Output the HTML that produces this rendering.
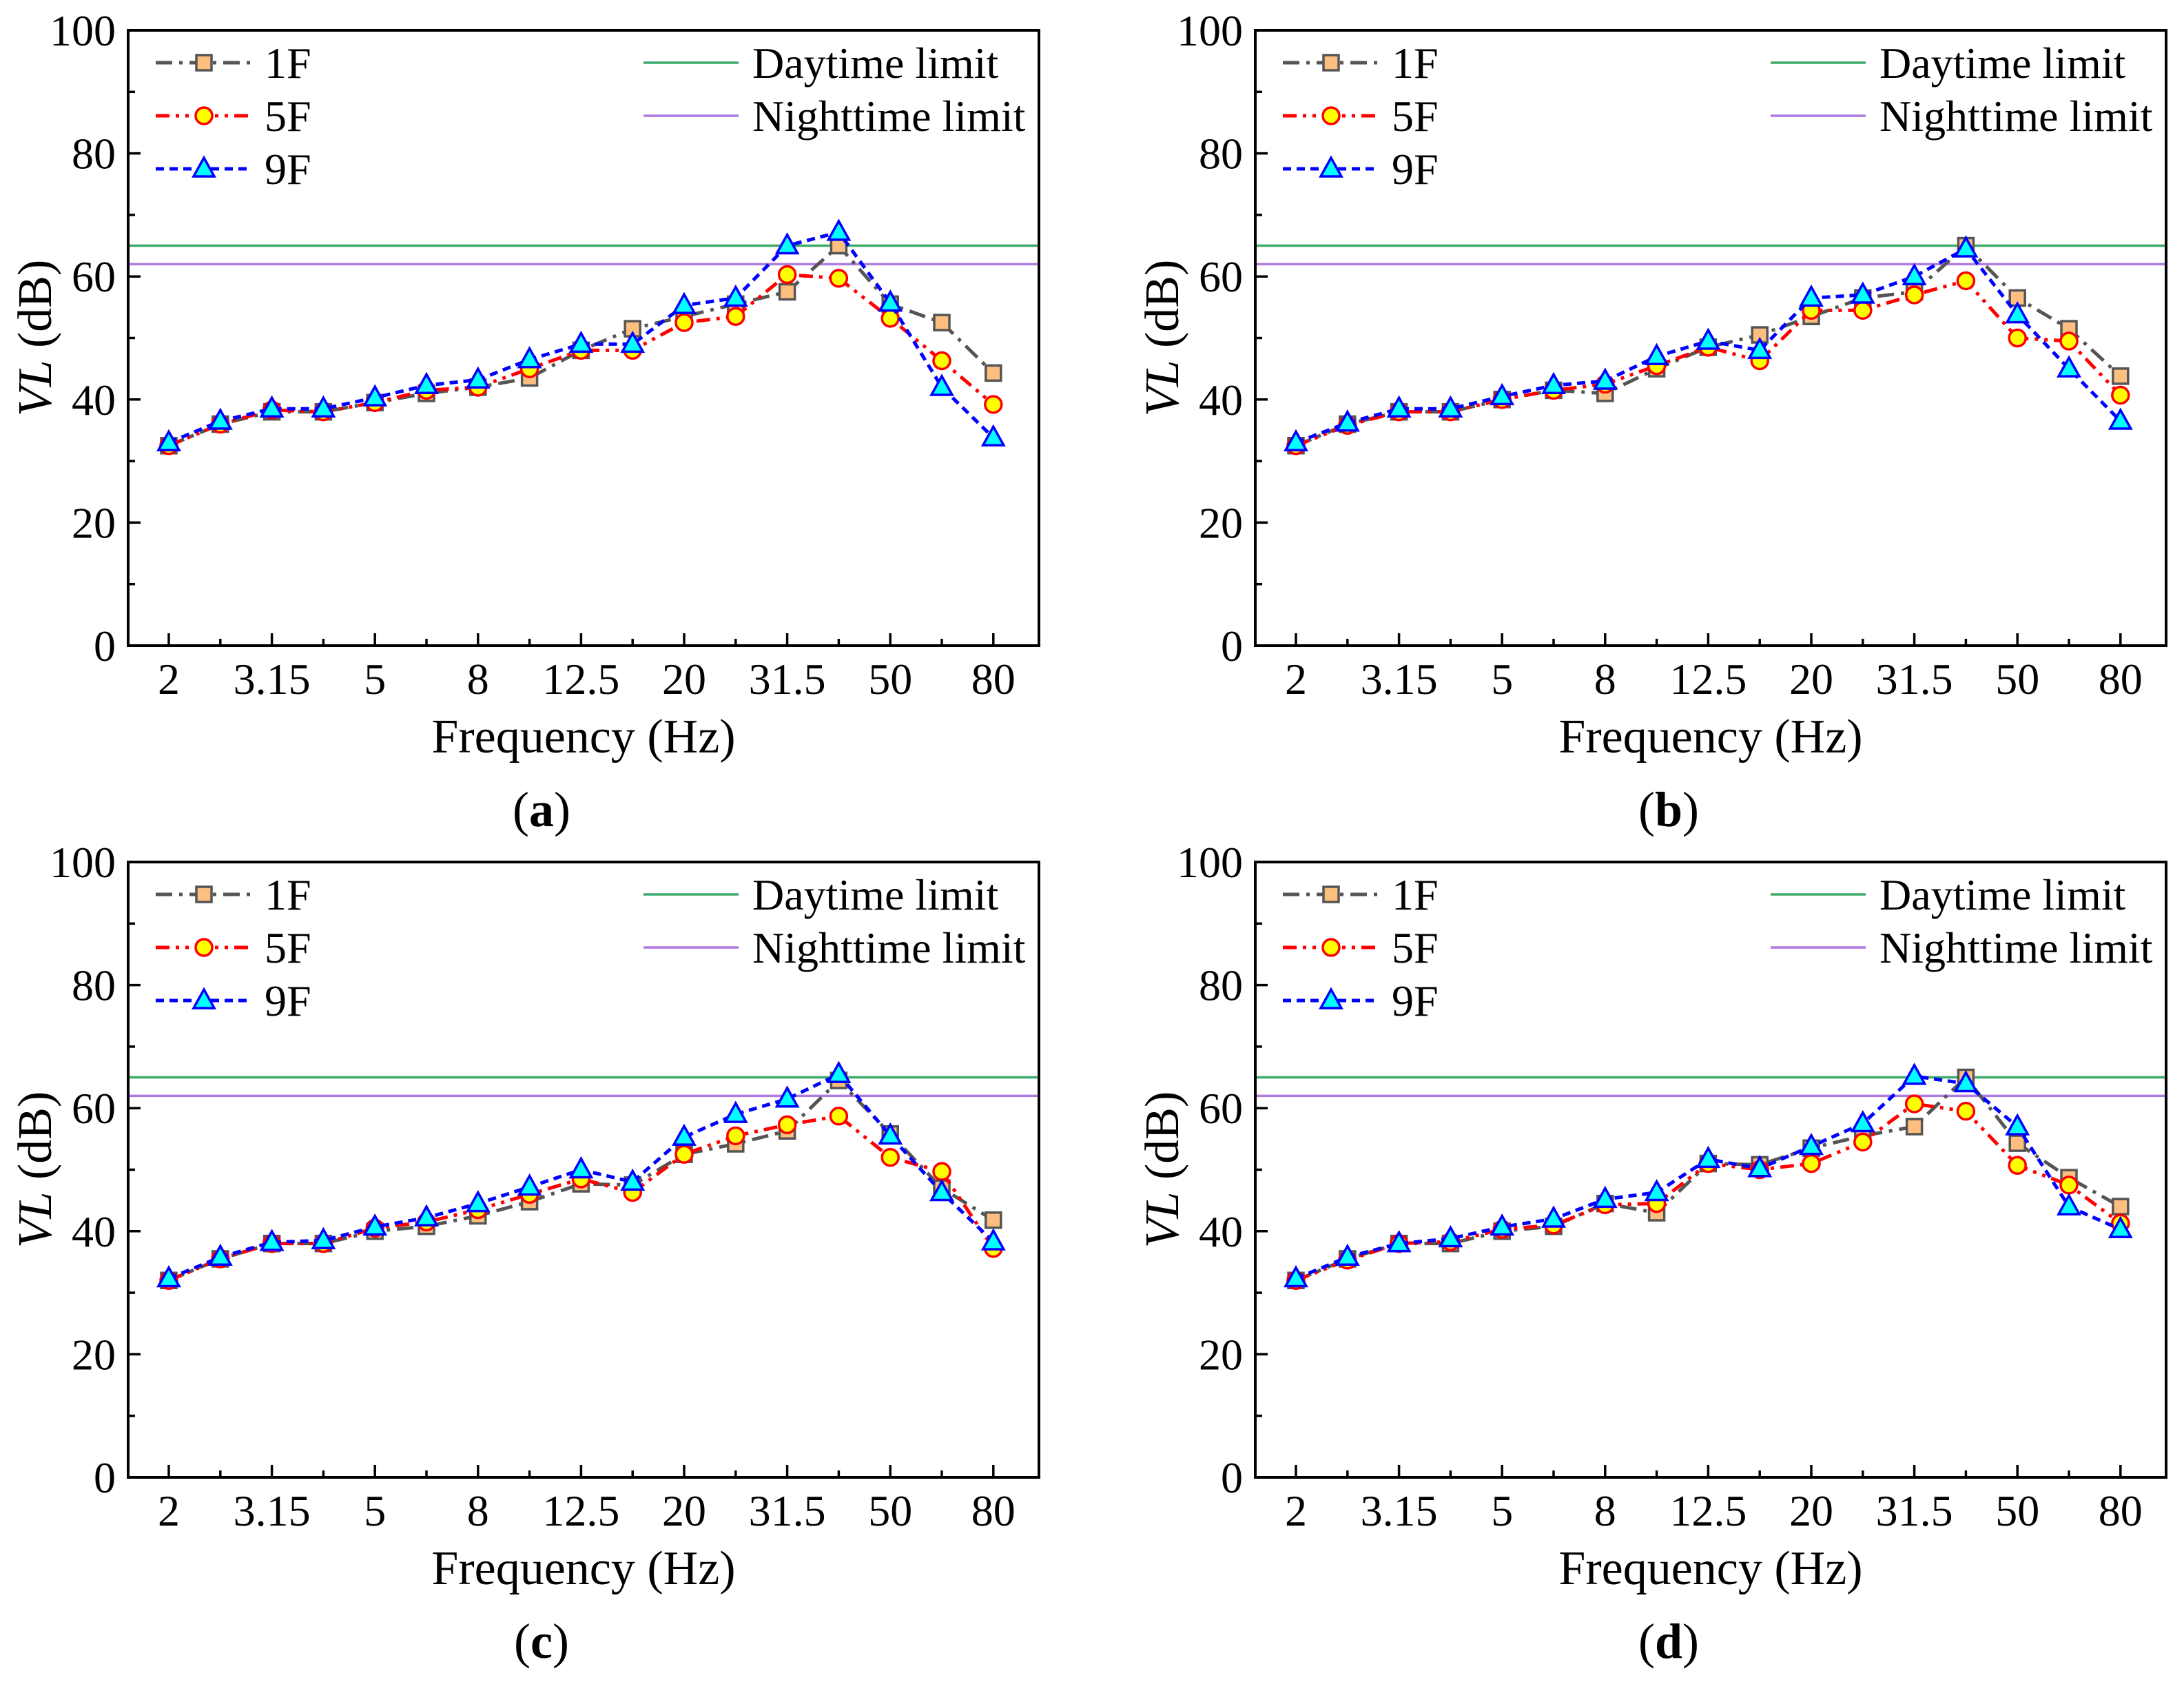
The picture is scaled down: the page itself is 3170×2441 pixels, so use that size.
<!DOCTYPE html>
<html><head><meta charset="utf-8">
<style>
html,body{margin:0;padding:0;background:#fff;}
svg{display:block;}
text{font-family:"Liberation Serif","Times New Roman",serif;}
</style></head>
<body>
<svg id="fig" width="3170" height="2441" viewBox="0 0 3170 2441" xmlns="http://www.w3.org/2000/svg" font-family="Liberation Serif, serif"></svg>
<script>
const categories = ["2","2.5","3.15","4","5","6.3","8","10","12.5","16","20","25","31.5","40","50","63","80"];
const tickLabels = ["2","3.15","5","8","12.5","20","31.5","50","80"];
const yTicks = [0,20,40,60,80,100];
const dayLimit = 65;
const nightLimit = 62;
const panelLetters = ["a","b","c","d"];

const a1F = [32.5,36,38,38,39.5,41,42,43.5,48,51.5,53.5,55.5,57.5,65,55.5,52.5,44.3];
const a5F = [32.5,36,38.3,38,39.5,41.5,42,45,48,48,52.5,53.5,60.3,59.7,53.2,46.3,39.2];
const a9F = [33,36.5,38.5,38.5,40.3,42.3,43.2,46.5,49,49,55.3,56.5,65,67.2,55.7,42,33.8];

const b1F = [32.5,36,38,38,40,41.5,41,45,48.5,50.5,53.5,56.5,57.5,65,56.5,51.5,43.8];
const b5F = [32.5,35.8,38,38,40,41.5,42.5,45.5,48.5,46.3,54.5,54.5,57,59.3,50,49.5,40.7];
const b9F = [33,36.2,38.5,38.5,40.5,42.3,43,47,49.5,48,56.5,57,60,64.5,53.8,45,36.5];

const c1F = [32,35.5,38,38,40,40.8,42.5,44.8,47.7,47.5,52.5,54.2,56.3,64.5,55.8,47,41.8];
const c5F = [32,35.5,38,38,40.5,41.5,43.5,46,48.5,46.3,52.5,55.5,57.3,58.7,52,49.7,37.2];
const c9F = [32.3,35.8,38.2,38.5,40.7,42.2,44.5,47.2,50,48,55.3,59,61.5,65.5,55.5,46.3,38.3];

const d1F = [32,35.5,38,38,40,40.8,44.5,43,51,50.8,53.5,55.5,57,65,54.3,48.7,44];
const d5F = [32,35.3,38,38.3,40.3,41,44.3,44.5,51,50,51,54.5,60.7,59.5,50.7,47.5,41.3];
const d9F = [32.3,35.8,38,38.8,40.7,42,45.2,46.3,51.7,50.2,53.8,57.5,65.2,64,57,44,40.3];

const panelData = [[a1F,a5F,a9F],[b1F,b5F,b9F],[c1F,c5F,c9F],[d1F,d5F,d9F]];

const NS="http://www.w3.org/2000/svg";
const svg=document.getElementById('fig');
const FF='Liberation Serif, Times New Roman, serif';
function mk(tag,attrs,parent){const e=document.createElementNS(NS,tag);for(const k in attrs)e.setAttribute(k,attrs[k]);if(tag==='text')e.setAttribute('font-family',FF);(parent||svg).appendChild(e);return e;}

const styles=[
 {name:"1F",stroke:"#555555",dash:"24 10 5 10",marker:"square",fill:"#FDBF7F",mstroke:"#555555"},
 {name:"5F",stroke:"#FF0000",dash:"20 9 5 9 5 9",marker:"circle",fill:"#FFFF00",mstroke:"#FF0000"},
 {name:"9F",stroke:"#0000FF",dash:"12 8",marker:"triangle",fill:"#00FFFF",mstroke:"#0000FF"}
];

function marker(g,type,x,y,s){
  let m;
  if(type==="square") m=mk('rect',{x:x-11,y:y-11,width:22,height:22,fill:s.fill,stroke:s.mstroke,'stroke-width':3.5},g);
  else if(type==="circle") m=mk('circle',{cx:x,cy:y,r:12,fill:s.fill,stroke:s.mstroke,'stroke-width':3.5},g);
  else m=mk('polygon',{points:`${x},${y-16} ${x+15},${y+11} ${x-15},${y+11}`,fill:s.fill,stroke:s.mstroke,'stroke-width':3.5},g);
  return m;
}

const offsets=[[186,44],[1822,44],[186,1251],[1822,1251]];
const PW=1322, PH=893;

offsets.forEach((off,pi)=>{
  const [L,T]=off;
  const g=mk('g',{});
  
  
  const xScale=i=>L+59+i*74.8;
  const yScale=v=>T+PH-v/100*PH;

  const dl=mk('line',{x1:L,x2:L+PW,y1:yScale(dayLimit),y2:yScale(dayLimit),stroke:"#3DAA6B",'stroke-width':3.5},g);
  
  
  const nl=mk('line',{x1:L,x2:L+PW,y1:yScale(nightLimit),y2:yScale(nightLimit),stroke:"#B07BE0",'stroke-width':3.5},g);
  
  

  panelData[pi].forEach((vals,si)=>{
    const s=styles[si];
    const sg=mk('g',{},g);
    
    
    const pts=vals.map((v,i)=>xScale(i)+','+yScale(v)).join(' ');
    mk('polyline',{points:pts,fill:'none',stroke:s.stroke,'stroke-width':5,'stroke-dasharray':s.dash},sg);
    vals.forEach((v,i)=>{
      const m=marker(sg,s.marker,xScale(i),yScale(v),s);
      
      
    });
  });

  const fr=mk('rect',{x:L,y:T,width:PW,height:PH,fill:'none',stroke:'#000','stroke-width':4},g);
  
  

  for(let v=0;v<=100;v+=10){
    const major=v%20===0;
    mk('line',{x1:L,x2:L+(major?18:10),y1:yScale(v),y2:yScale(v),stroke:'#000','stroke-width':3.5},g);
  }
  yTicks.forEach(v=>{
    const t=mk('text',{x:L-18,y:yScale(v)+22,'text-anchor':'end','font-size':64},g);
    t.textContent=v;
    
    
  });
  categories.forEach((c,i)=>{
    const major=i%2===0;
    mk('line',{x1:xScale(i),x2:xScale(i),y1:T+PH,y2:T+PH-(major?18:10),stroke:'#000','stroke-width':3.5},g);
  });
  tickLabels.forEach((lab,k)=>{
    const t=mk('text',{x:xScale(k*2),y:T+PH+70,'text-anchor':'middle','font-size':64},g);
    t.textContent=lab;
    
    
  });
  const xt=mk('text',{x:L+661,y:T+PH+155,'text-anchor':'middle','font-size':70},g);
  xt.textContent='Frequency (Hz)';
  
  
  const yt=mk('text',{x:0,y:0,'text-anchor':'middle','font-size':70,transform:`translate(${L-112},${T+PH/2}) rotate(-90)`},g);
  yt.innerHTML='<tspan font-style="italic">VL</tspan> (dB)';
  
  
  const pl=mk('text',{x:L+600,y:T+PH+262,'text-anchor':'middle','font-size':72},g);
  pl.innerHTML='(<tspan font-weight="bold">'+panelLetters[pi]+'</tspan>)';
  
  

  const lg=mk('g',{},g);
  
  
  styles.forEach((s,si)=>{
    const y=T+47+si*77;
    const e=mk('g',{},lg);
    
    
    mk('line',{x1:L+40,x2:L+180,y1:y,y2:y,stroke:s.stroke,'stroke-width':5,'stroke-dasharray':s.dash},e);
    marker(e,s.marker,L+110,y,s);
    const t=mk('text',{x:L+198,y:y+22,'font-size':64},e);
    t.textContent=s.name;
  });
  [["Daytime limit","#3DAA6B"],["Nighttime limit","#B07BE0"]].forEach((d,k)=>{
    const y=T+47+k*77;
    const e=mk('g',{},lg);
    
    
    mk('line',{x1:L+748,x2:L+886,y1:y,y2:y,stroke:d[1],'stroke-width':3.5},e);
    const t=mk('text',{x:L+906,y:y+22,'font-size':64},e);
    t.textContent=d[0];
  });
});
</script>
</body></html>
